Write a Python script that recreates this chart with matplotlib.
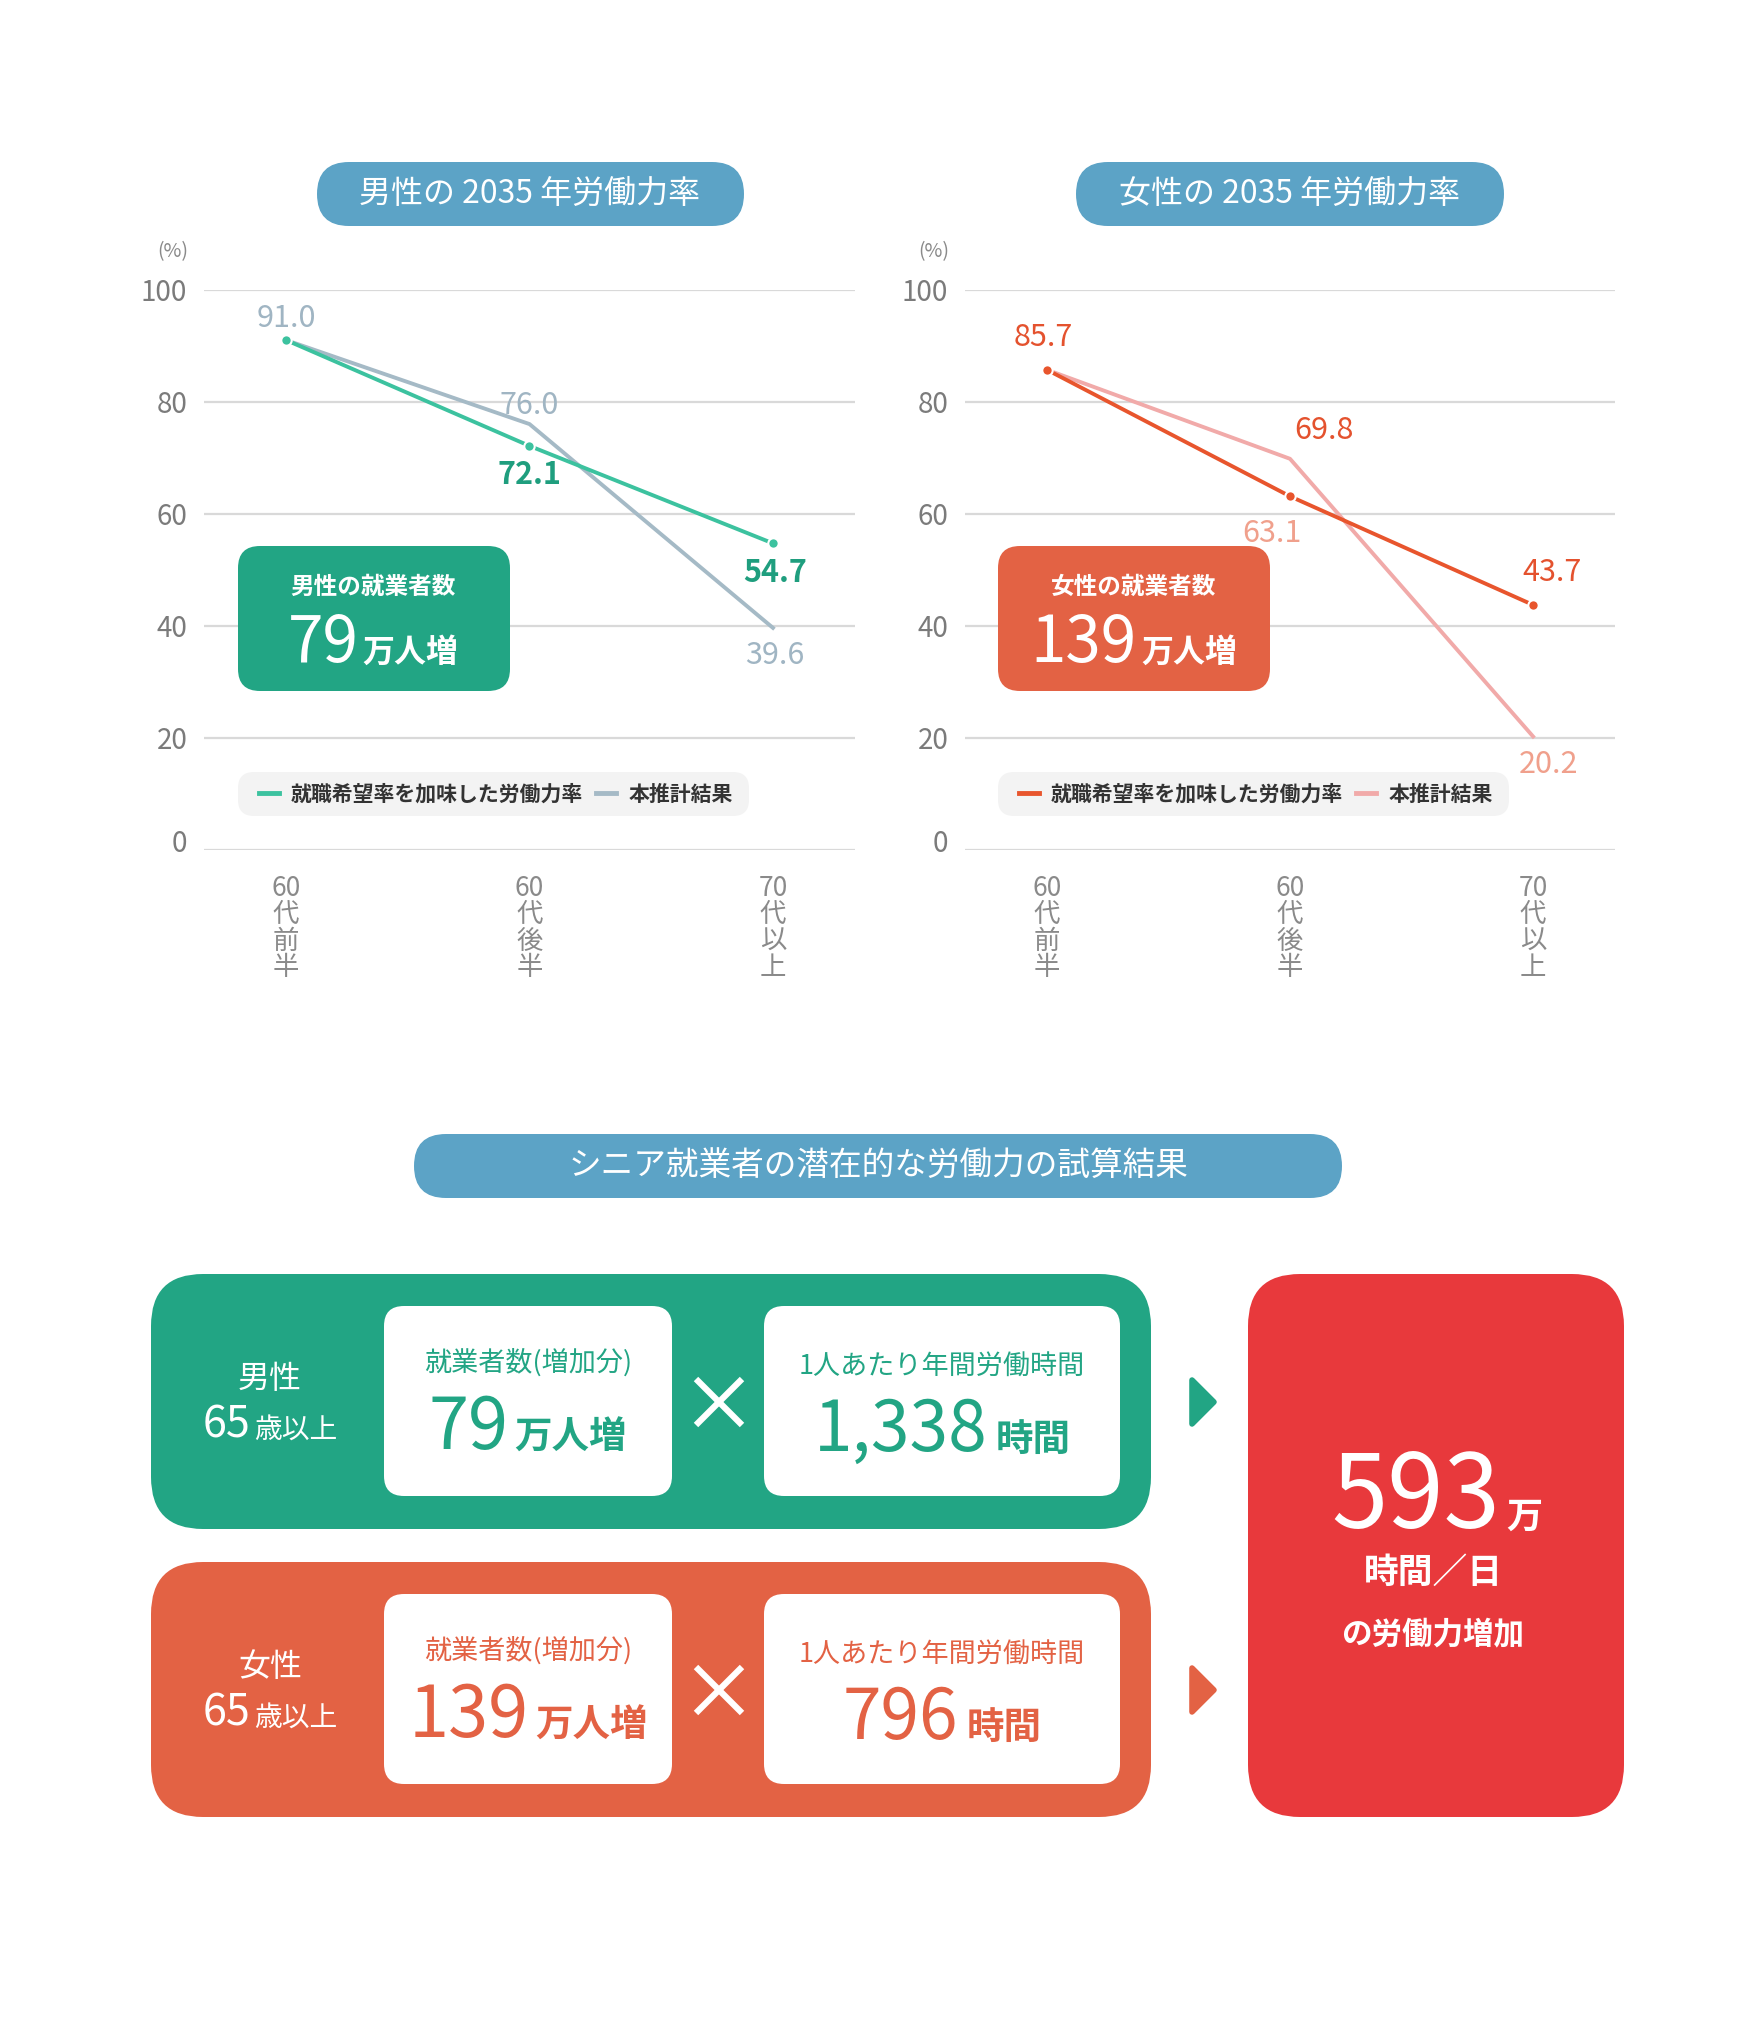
import matplotlib
matplotlib.use("Agg")
import matplotlib.pyplot as plt
from matplotlib.patches import FancyBboxPatch, Polygon
from matplotlib.lines import Line2D
from matplotlib.transforms import ScaledTranslation

plt.rcParams['font.family'] = ['Noto Sans CJK JP', 'DejaVu Sans']

# --- データ ---
categories = ['60\n代\n前\n半', '60\n代\n後\n半', '70\n代\n以\n上']
male_hope = [91.0, 72.1, 54.7]      # 就職希望率を加味した労働力率
male_base = [91.0, 76.0, 39.6]      # 本推計結果
female_hope = [85.7, 63.1, 43.7]
female_base = [85.7, 69.8, 20.2]
series_labels = ['就職希望率を加味した労働力率', '本推計結果']
yticks = [0, 20, 40, 60, 80, 100]

male_workers = 79        # 万人増
female_workers = 139
male_hours = 1338        # 1人あたり年間労働時間
female_hours = 796
total_increase = 593     # 万時間/日

# --- 色 ---
BLUE = '#5ca3c6'
GREEN = '#22a584'
ORANGE = '#e36244'
RED = '#e8393c'
GRID = '#d9d9d9'
TICK = '#7b7b7b'

W, H = 1756, 2028
fig = plt.figure(figsize=(W / 100, H / 100), dpi=100)
renderer = fig.canvas.get_renderer()


def px_axes(x0, y_top, x1, y_bot, **kw):
    return fig.add_axes([x0 / W, 1 - y_bot / H, (x1 - x0) / W, (y_bot - y_top) / H], **kw)


# 装飾用のオーバーレイ (1単位 = 1px, 上から下)
ov = px_axes(0, 0, W, H, zorder=5)
ov.set_xlim(0, W)
ov.set_ylim(H, 0)
ov.axis('off')
ov.patch.set_alpha(0)


def rbox(x0, y0, x1, y1, r, color, ax=None, z=1):
    p = FancyBboxPatch((x0 + r, y0 + r), x1 - x0 - 2 * r, y1 - y0 - 2 * r,
                       boxstyle=f'round,pad={r}', fc=color, ec='none',
                       transform=ov.transData, zorder=z, clip_on=False)
    (ax or ov).add_patch(p)


def runs(xc, yb, parts, color, gap=4):
    # 大きさの違う文字列を横に並べ、全体を xc に中央揃え
    x = 0
    texts = []
    for s, size, weight in parts:
        t = ov.text(x, yb, s, fontsize=size, color=color, fontweight=weight,
                    ha='left', va='baseline')
        w = t.get_window_extent(renderer).width
        texts.append(t)
        x += w + gap
    shift = xc - (x - gap) / 2
    for t in texts:
        t.set_x(t.get_position()[0] + shift)


def draw_chart(ax, hope, base, c_hope, c_base, labels, leg_box):
    xs = list(range(len(categories)))
    ax.plot(xs, base, color=c_base, lw=2.8, zorder=3)
    ax.plot(xs, hope, color=c_hope, lw=2.8, zorder=4, marker='o', ms=7.5,
            mfc=c_hope, mec='white', mew=1.5)
    for series, i, dx, dy, col, wt in labels:
        v = (hope if series == 'h' else base)[i]
        ax.annotate(f'{v:.1f}', (i, v), xytext=(dx, dy), textcoords='offset pixels',
                    ha='center', va='center', fontsize=22, color=col, fontweight=wt,
                    zorder=6)
    ax.set_xlim(-0.337, 2.337)
    ax.set_ylim(0, 100)
    ax.set_yticks(yticks)
    ax.set_xticks(xs)
    ax.set_xticklabels(categories)
    for t in ax.get_xticklabels():
        t.set_linespacing(0.98)
    ax.grid(axis='y', color=GRID, lw=1.6)
    ax.set_axisbelow(True)
    for s in ax.spines.values():
        s.set_visible(False)
    ax.tick_params(axis='y', length=0, pad=12, labelsize=20, labelcolor=TICK)
    ax.tick_params(axis='x', length=0, pad=18, labelsize=19, labelcolor='#8a8a8a')
    zero = ax.get_yticklabels()[0]
    zero.set_transform(zero.get_transform() + ScaledTranslation(0, 0.09, fig.dpi_scale_trans))
    ax.patch.set_alpha(0)

    # 凡例 (背景の角丸は別に描く)
    x0, y0, x1, y1 = leg_box
    rbox(x0, y0, x1, y1, 16, '#f3f3f3', ax=ax, z=2)
    handles = [Line2D([], [], color=c_hope, lw=3.5), Line2D([], [], color=c_base, lw=3.5)]
    ax_w = ax.get_position().width * W
    ax_h = ax.get_position().height * H
    ax_x0 = ax.get_position().x0 * W
    ax_yb = (1 - ax.get_position().y0) * H
    leg = ax.legend(handles, series_labels, loc='center left',
                    bbox_to_anchor=((x0 + 21 - ax_x0) / ax_w, (ax_yb - (y0 + y1) / 2) / ax_h),
                    ncol=2, frameon=False, prop={'size': 15, 'weight': 'bold'},
                    handlelength=0.96, handletextpad=0.58, columnspacing=0.62,
                    borderpad=0, borderaxespad=0)
    leg.set_zorder(7)
    for t in leg.get_texts():
        t.set_color('#333333')


# --- 上段: 2つの折れ線グラフ ---
ax_m = px_axes(204, 289.7, 855, 849.6, zorder=1)
draw_chart(ax_m, male_hope, male_base, '#3cc29f', '#a5bac6', [
    ('b', 0, 0, 22, '#a0b5c3', 'normal'),
    ('b', 1, 0, 19, '#a0b5c3', 'normal'),
    ('h', 1, 0, -29, '#1f9e7e', 'bold'),
    ('h', 2, 2, -30, '#1f9e7e', 'bold'),
    ('b', 2, 2, -28, '#a0b5c3', 'normal'),
], (238, 772, 749, 816))

ax_f = px_axes(965, 289.7, 1615, 849.6, zorder=1)
draw_chart(ax_f, female_hope, female_base, '#e8552d', '#f1aaa9', [
    ('h', 0, -4, 32, '#e4522e', 'normal'),
    ('b', 1, 34, 28, '#e4522e', 'normal'),
    ('h', 1, -18, -37, '#f0a08c', 'normal'),
    ('h', 2, 19, 32, '#e4522e', 'normal'),
    ('b', 2, 15, -28, '#f0a08c', 'normal'),
], (998, 772, 1509, 816))

for x_l in (173, 934):
    ov.text(x_l, 252, '(%)', fontsize=14, color='#8a8a8a', ha='center', va='center')

# タイトル
rbox(317, 162, 744, 226, 32, BLUE)
ov.text(530, 194, '男性の 2035 年労働力率', fontsize=23, color='white',
        ha='center', va='center')
rbox(1076, 162, 1504, 226, 32, BLUE)
ov.text(1290, 194, '女性の 2035 年労働力率', fontsize=23, color='white',
        ha='center', va='center')

# 就業者数ボックス
rbox(238, 546, 510, 691, 22, GREEN)
ov.text(373, 587, '男性の就業者数', fontsize=17, color='white', fontweight='bold',
        ha='center', va='center')
runs(373, 662, [(f'{male_workers}', 46, 'normal'), ('万人増', 23, 'bold')], 'white')

rbox(998, 546, 1270, 691, 22, ORANGE)
ov.text(1134, 587, '女性の就業者数', fontsize=17, color='white', fontweight='bold',
        ha='center', va='center')
runs(1134, 662, [(f'{female_workers}', 46, 'normal'), ('万人増', 23, 'bold')], 'white')

# --- 下段: 試算結果 ---
rbox(414, 1134, 1342, 1198, 32, BLUE)
ov.text(878, 1166, 'シニア就業者の潜在的な労働力の試算結果', fontsize=23.5, color='white',
        ha='center', va='center')

rows = [
    ('男性', male_workers, male_hours, GREEN, 0),
    ('女性', female_workers, female_hours, ORANGE, 288),
]
for sex, workers, hours, col, dy in rows:
    rbox(151, 1274 + dy, 1151, 1529 + dy, 52, col)
    ov.text(270, 1379 + dy, sex, fontsize=23, color='white',
            ha='center', va='center')
    runs(270, 1438 + dy, [('65', 31, 'normal'), ('歳以上', 20, 'normal')], 'white', gap=3)

    rbox(384, 1306 + dy, 672, 1496 + dy, 20, 'white')
    ov.text(528, 1363 + dy, '就業者数(増加分)', fontsize=19.5, color=col,
            ha='center', va='center')
    runs(528, 1449 + dy, [(f'{workers}', 52, 'normal'), ('万人増', 27, 'bold')], col, gap=6)

    ov.plot([696, 742], [1379 + dy, 1425 + dy], color='white', lw=4.5, solid_capstyle='butt')
    ov.plot([696, 742], [1425 + dy, 1379 + dy], color='white', lw=4.5, solid_capstyle='butt')

    rbox(764, 1306 + dy, 1120, 1496 + dy, 20, 'white')
    ov.text(942, 1367 + dy, '1人あたり年間労働時間', fontsize=19.5, color=col,
            ha='center', va='center')
    runs(942, 1451 + dy, [(f'{hours:,}', 50, 'normal'), ('時間', 27, 'bold')], col, gap=8)

    ov.add_patch(Polygon([(1192, 1380 + dy), (1192, 1424 + dy), (1214, 1402 + dy)],
                         closed=True, fc=col, ec=col, lw=4, joinstyle='round'))

rbox(1248, 1274, 1624, 1817, 52, RED)
runs(1437, 1528, [(f'{total_increase}', 73, 'normal'), ('万', 26, 'bold')], 'white', gap=6)
ov.text(1433, 1572, '時間／日', fontsize=25, color='white', fontweight='bold',
        ha='center', va='center')
ov.text(1433, 1634, 'の労働力増加', fontsize=22, color='white', fontweight='bold',
        ha='center', va='center')

fig.savefig('out.png', dpi=100)
